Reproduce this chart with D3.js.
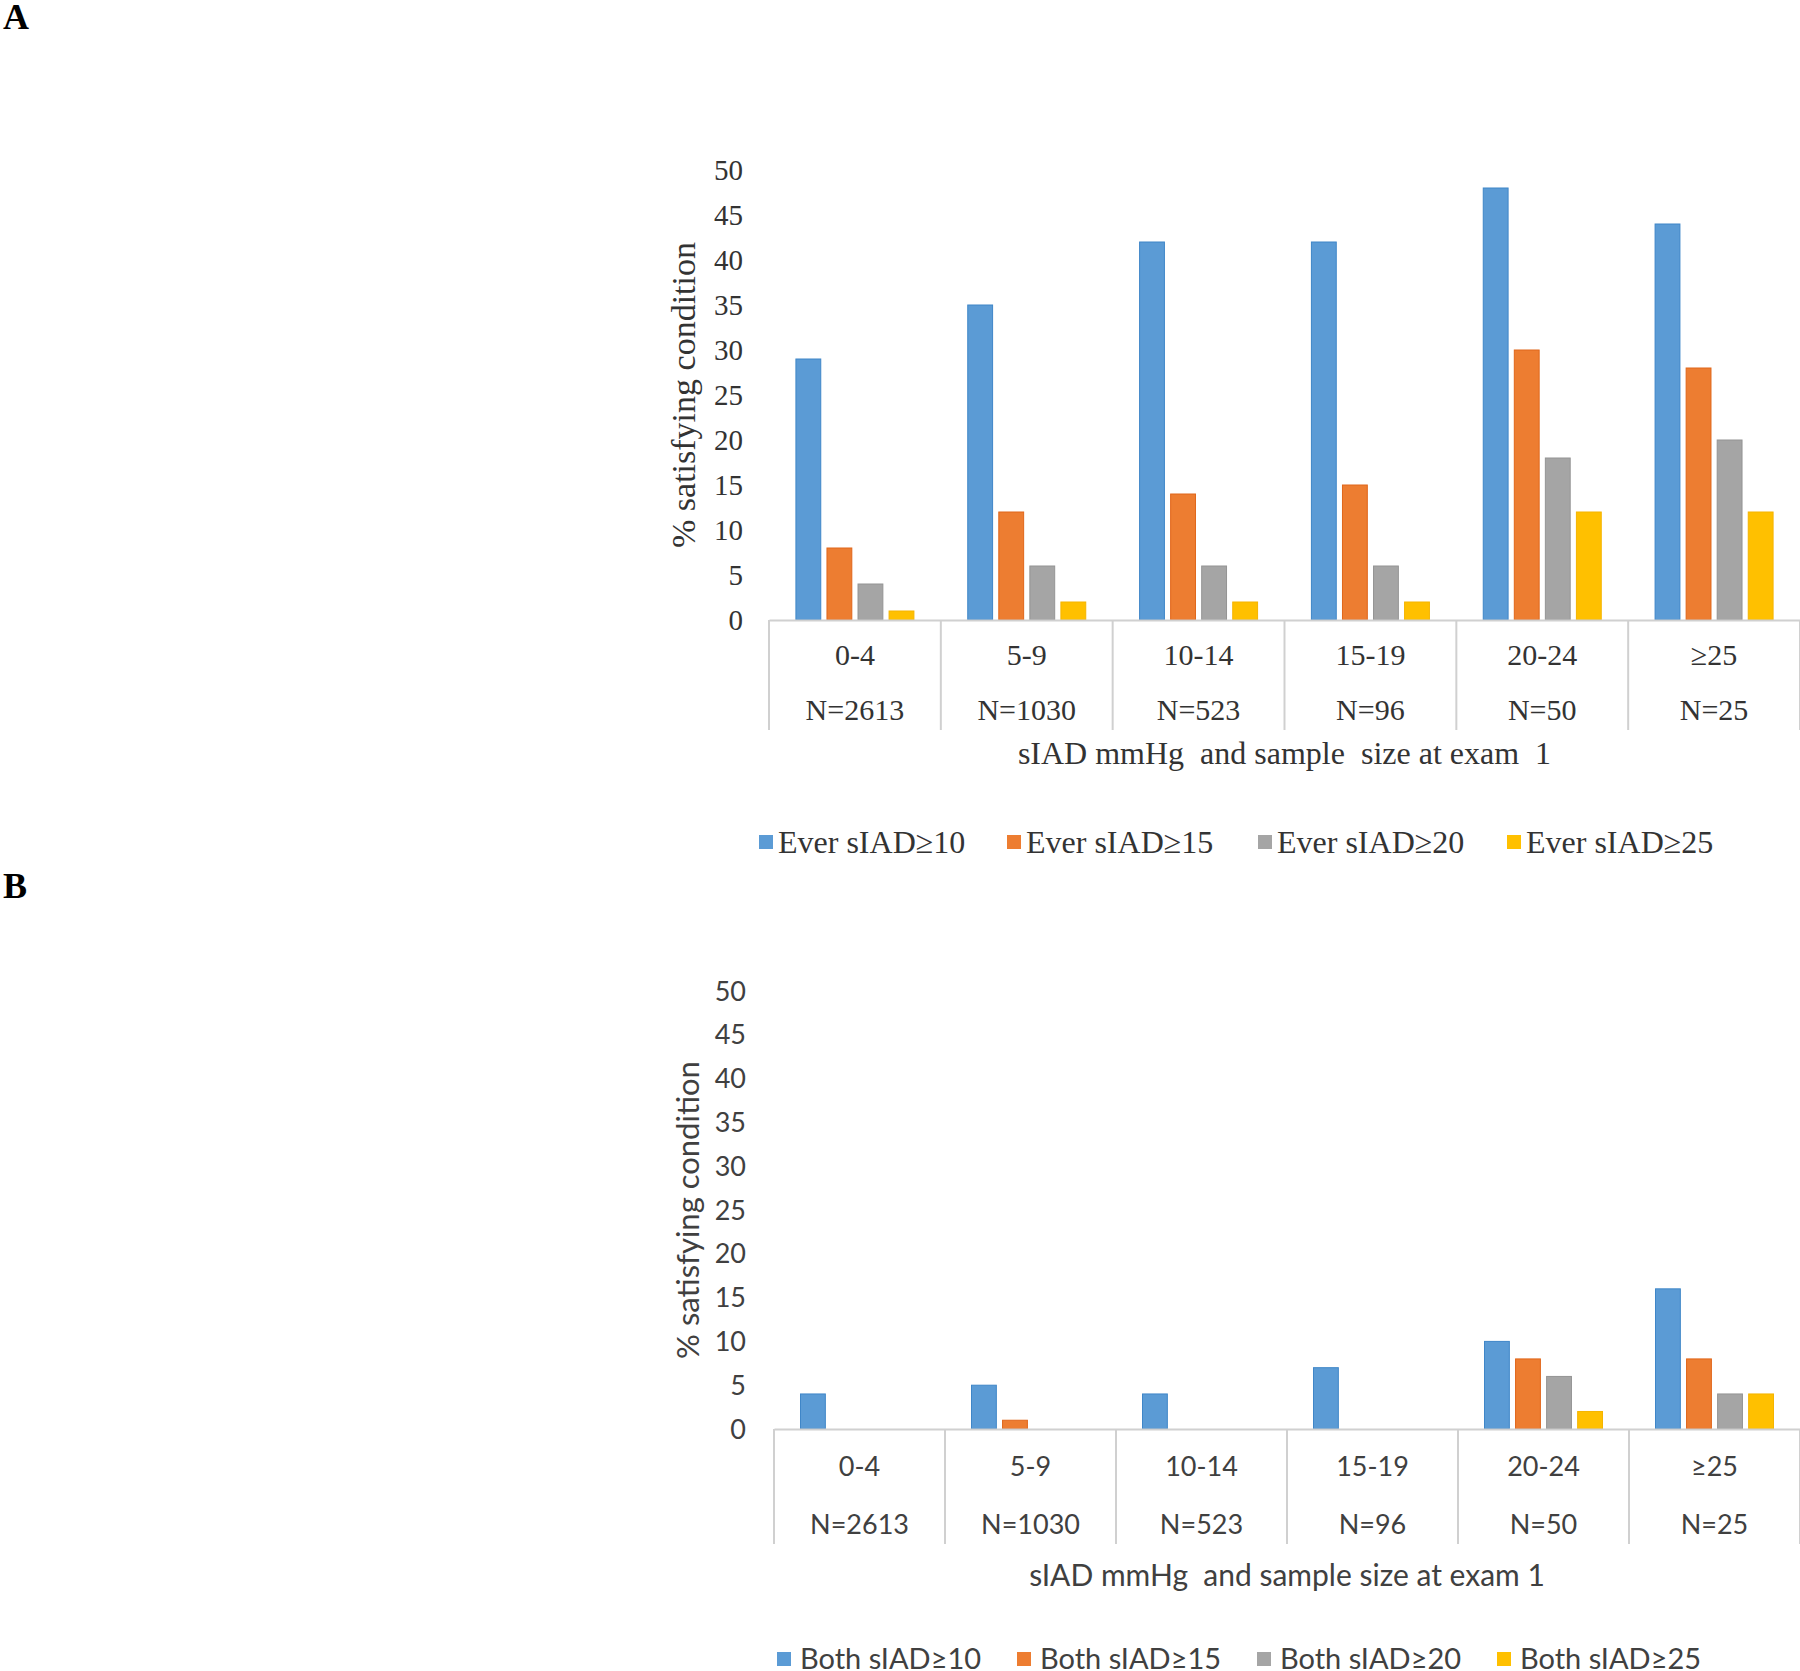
<!DOCTYPE html>
<html><head><meta charset="utf-8">
<script src="https://cdn.jsdelivr.net/npm/d3@7"></script>
<style>body{margin:0;background:#fff}svg{display:block}</style>
</head><body>
<svg id="chart" width="1800" height="1671"></svg>
<script>
const categories = ["0-4", "5-9", "10-14", "15-19", "20-24", "\u226525"];
const sampleSizes = ["N=2613", "N=1030", "N=523", "N=96", "N=50", "N=25"];
const yTicks = [0, 5, 10, 15, 20, 25, 30, 35, 40, 45, 50];

const seriesA = ["Ever sIAD\u226510", "Ever sIAD\u226515", "Ever sIAD\u226520", "Ever sIAD\u226525"];
const everGE10 = [29, 35, 42, 42, 48, 44];
const everGE15 = [8, 12, 14, 15, 30, 28];
const everGE20 = [4, 6, 6, 6, 18, 20];
const everGE25 = [1, 2, 2, 2, 12, 12];

const seriesB = ["Both sIAD\u226510", "Both sIAD\u226515", "Both sIAD\u226520", "Both sIAD\u226525"];
const bothGE10 = [4, 5, 4, 7, 10, 16];
const bothGE15 = [0, 1, 0, 0, 8, 8];
const bothGE20 = [0, 0, 0, 0, 6, 4];
const bothGE25 = [0, 0, 0, 0, 2, 4];

const colors = ["#5B9BD5", "#ED7D31", "#A5A5A5", "#FFC000"];
const strokes = ["#3f86c8", "#e0661a", "#949494", "#f5b400"];

const svg = d3.select("#chart");

function drawPanel(o) {
  const g = svg.append("g");
  const groupW = 118;
  const x0 = d3.scaleBand().domain(categories).range([o.left, o.right]).padding(0);
  const x1 = d3.scaleBand().domain(o.series).range([0, groupW]).paddingInner(0.2).paddingOuter(0);
  const y = d3.scaleLinear().domain([0, 50]).range([o.y0, o.y50]);
  const groupOff = (x0.bandwidth() - groupW) / 2;

  // y tick labels (no axis line)
  const yAxis = d3.axisLeft(y).tickValues(yTicks).tickSize(0).tickPadding(0);
  const ya = g.append("g").attr("transform", `translate(${o.tickRight},0)`).call(yAxis);
  ya.select(".domain").remove();
  ya.selectAll("text").attr("font-family", o.font).attr("font-size", o.tickSize).attr("fill", o.textColor).attr("dy", "0.34em");

  // bars
  const data = o.values;
  o.series.forEach((s, si) => {
    g.append("g").selectAll("rect").data(data[si]).join("rect")
      .attr("x", (d, i) => x0(categories[i]) + groupOff + x1(s))
      .attr("width", x1.bandwidth())
      .attr("y", d => y(d))
      .attr("height", d => y(0) - y(d))
      .attr("fill", colors[si])
      .attr("stroke", d => d > 0 ? strokes[si] : "none")
      .attr("stroke-width", 1);
  });

  // x axis line and separators
  const xa = d3.axisBottom(x0).tickSize(0).tickFormat("");
  const xg = g.append("g").attr("transform", `translate(0,${o.y0})`).call(xa);
  xg.select(".domain").attr("stroke", "#d0d0d0").attr("stroke-width", 2);
  const bounds = categories.map(c => x0(c)).concat([o.right]);
  g.append("g").selectAll("line").data(bounds).join("line")
    .attr("x1", d => d).attr("x2", d => d)
    .attr("y1", o.y0).attr("y2", o.sepBottom)
    .attr("stroke", "#d0d0d0").attr("stroke-width", 2);

  // category labels
  g.append("g").selectAll("text").data(categories).join("text")
    .attr("x", d => x0(d) + x0.bandwidth() / 2).attr("y", o.catY)
    .attr("text-anchor", "middle").attr("dy", "0.35em")
    .attr("font-family", o.font).attr("font-size", o.catSize).attr("fill", o.textColor)
    .text(d => d);
  g.append("g").selectAll("text").data(sampleSizes).join("text")
    .attr("x", (d, i) => x0(categories[i]) + x0.bandwidth() / 2).attr("y", o.nY)
    .attr("text-anchor", "middle").attr("dy", "0.35em")
    .attr("font-family", o.font).attr("font-size", o.catSize).attr("fill", o.textColor)
    .text(d => d);

  // axis titles
  g.append("text").attr("x", (o.left + o.right) / 2).attr("y", o.titleY)
    .attr("text-anchor", "middle").attr("dy", "0.35em")
    .attr("font-family", o.font).attr("font-size", o.xTitleSize).attr("fill", o.textColor)
    .style("white-space", "pre")
    .text(o.xTitle);
  g.append("text")
    .attr("transform", `translate(${o.yTitleX},${(o.y0 + o.y50) / 2}) rotate(-90)`)
    .attr("text-anchor", "middle").attr("dy", "0.35em")
    .attr("font-family", o.font).attr("font-size", o.yTitleSize).attr("fill", o.textColor)
    .text("% satisfying condition");

  // legend
  const lg = g.append("g");
  o.series.forEach((s, si) => {
    lg.append("rect").attr("x", o.legX[si]).attr("y", o.legY - 7).attr("width", 14).attr("height", 14)
      .attr("fill", colors[si]);
    lg.append("text").attr("x", o.legX[si] + o.legGap).attr("y", o.legY).attr("dy", "0.35em")
      .attr("font-family", o.font).attr("font-size", o.legSize).attr("fill", o.textColor)
      .text(s);
  });

  // panel letter
  svg.append("text").attr("x", 3).attr("y", o.letterY)
    .attr("font-family", "Liberation Serif").attr("font-weight", "bold").attr("font-size", 36)
    .attr("fill", "#000").text(o.letter);
}

drawPanel({
  letter: "A", letterY: 29,
  series: seriesA, values: [everGE10, everGE15, everGE20, everGE25],
  left: 769, right: 1800, y0: 620, y50: 170,
  tickRight: 743, sepBottom: 730,
  catY: 654, nY: 709, titleY: 753,
  xTitle: "sIAD mmHg  and sample  size at exam  1",
  yTitleX: 683,
  legX: [759, 1007, 1258, 1507], legY: 842, legGap: 19,
  font: "Liberation Serif", textColor: "#333333",
  tickSize: 29, catSize: 30, xTitleSize: 32, yTitleSize: 34, legSize: 32
});

drawPanel({
  letter: "B", letterY: 898,
  series: seriesB, values: [bothGE10, bothGE15, bothGE20, bothGE25],
  left: 774, right: 1800, y0: 1429, y50: 991,
  tickRight: 746, sepBottom: 1544,
  catY: 1467, nY: 1525, titleY: 1575,
  xTitle: "sIAD mmHg  and sample size at exam 1",
  yTitleX: 688,
  legX: [777, 1017, 1257, 1497], legY: 1659, legGap: 23,
  font: "Lato", textColor: "#404040",
  tickSize: 27, catSize: 27, xTitleSize: 30, yTitleSize: 31, legSize: 29
});
</script>
</body></html>
